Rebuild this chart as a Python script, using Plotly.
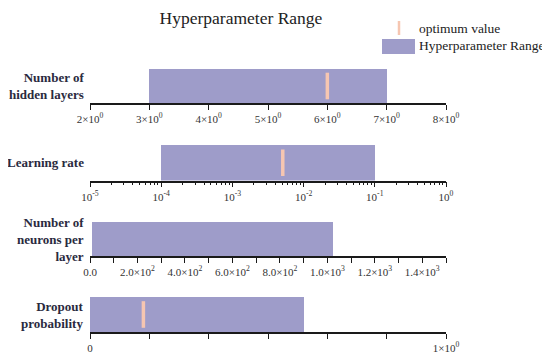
import plotly.graph_objects as go

# ---- data ----
param_labels = ["Number of<br>hidden layers", "Learning rate",
                "Number of<br>neurons per<br>layer", "Dropout<br>probability"]
range_low = [3, 1e-4, 8, 0]
range_high = [7, 1e-1, 1024, 0.6]
optimum = [6, 5.1e-3, None, 0.15]

axis_types = ["linear", "log", "linear", "linear"]
axis_ranges = [[2, 8], [-5, 0], [0, 1500], [0, 1]]

tick_vals_1 = [2, 3, 4, 5, 6, 7, 8]
tick_text_1 = ["2×10<sup>0</sup>", "3×10<sup>0</sup>", "4×10<sup>0</sup>", "5×10<sup>0</sup>",
               "6×10<sup>0</sup>", "7×10<sup>0</sup>", "8×10<sup>0</sup>"]
tick_vals_2 = [1e-5, 1e-4, 1e-3, 1e-2, 1e-1, 1]
tick_text_2 = ["10<sup>-5</sup>", "10<sup>-4</sup>", "10<sup>-3</sup>", "10<sup>-2</sup>",
               "10<sup>-1</sup>", "10<sup>0</sup>"]
tick_vals_3 = [0, 200, 400, 600, 800, 1000, 1200, 1400]
tick_text_3 = ["0.0", "2.0×10<sup>2</sup>", "4.0×10<sup>2</sup>", "6.0×10<sup>2</sup>",
               "8.0×10<sup>2</sup>", "1.0×10<sup>3</sup>", "1.2×10<sup>3</sup>", "1.4×10<sup>3</sup>"]
tick_vals_4 = [0, 1]
tick_text_4 = ["0", "1×10<sup>0</sup>"]

tick_vals = [tick_vals_1, tick_vals_2, tick_vals_3, tick_vals_4]
tick_texts = [tick_text_1, tick_text_2, tick_text_3, tick_text_4]
minor_steps = [None, "D1", 100, 1 / 6]

title_text = "Hyperparameter Range"
legend_opt = "optimum value"
legend_range = "Hyperparameter Range"

# ---- style ----
W, H = 550, 359
BAR_COLOR = "#9e9cc9"
OPT_COLOR = "#f6c6b1"
SERIF = "Liberation Serif"
LABEL_COLOR = "#2a2a3e"

x_dom = [82 / W, 438 / W]
y_px = [(61.0, 95.0), (137.0, 172.5), (214.0, 248.0), (289.0, 324.0)]

fig = go.Figure()

for i in range(4):
    n = "" if i == 0 else str(i + 1)
    xa, ya = "x" + n, "y" + n
    fig.add_trace(go.Bar(
        y=[0], x=[range_high[i] - range_low[i]], base=[range_low[i]],
        orientation="h", width=1.0, marker=dict(color=BAR_COLOR, line=dict(width=0)),
        xaxis=xa, yaxis=ya, showlegend=False, hoverinfo="skip"))
    if optimum[i] is not None:
        fig.add_trace(go.Scatter(
            x=[optimum[i]], y=[0], mode="markers",
            marker=dict(symbol="line-ns", size=19, line=dict(width=3.5, color=OPT_COLOR)),
            xaxis=xa, yaxis=ya, showlegend=False, hoverinfo="skip"))

    top, bot = y_px[i]
    xkw = dict(
        domain=x_dom, type=axis_types[i], range=axis_ranges[i], anchor=ya,
        showline=True, linecolor="#1a1a1a", linewidth=1.6,
        ticks="outside", ticklen=5, tickwidth=1.4, tickcolor="#1a1a1a",
        tickvals=tick_vals[i], ticktext=tick_texts[i],
        tickfont=dict(family=SERIF, size=11, color="#333333"),
        showgrid=False, zeroline=False, automargin=False, fixedrange=True,
    )
    if minor_steps[i] == "D1":
        xkw["minor"] = dict(ticks="outside", ticklen=3, tickwidth=1.2, tickcolor="#1a1a1a",
                            dtick="D1", showgrid=False)
    elif minor_steps[i] is not None:
        xkw["minor"] = dict(ticks="outside", ticklen=5, tickwidth=1.4, tickcolor="#1a1a1a",
                            tickmode="linear", tick0=0, dtick=minor_steps[i], showgrid=False)
    ykw = dict(
        domain=[1 - bot / H, 1 - top / H], range=[-0.5, 0.5], anchor=xa,
        showticklabels=False, ticks="",
        showline=False, showgrid=False, zeroline=False, automargin=False, fixedrange=True,
    )
    fig.update_layout(**{"xaxis" + n: xkw, "yaxis" + n: ykw})

    # category label at the left of each panel, placed on the panel's own y scale
    fig.add_annotation(x=78 / W, xref="paper", y=0, yref=ya,
                       text=param_labels[i], showarrow=False,
                       xanchor="right", yanchor="middle", align="right",
                       font=dict(family=SERIF, size=13, color=LABEL_COLOR, weight="bold"))

# custom legend
fig.add_shape(type="line", xref="paper", yref="paper",
              x0=391 / W, x1=391 / W, y0=1 - 13 / H, y1=1 - 27 / H,
              line=dict(color=OPT_COLOR, width=2.5))
fig.add_shape(type="rect", xref="paper", yref="paper",
              x0=374 / W, x1=407 / W, y0=1 - 31 / H, y1=1 - 46 / H,
              line=dict(width=0), fillcolor=BAR_COLOR)
fig.add_annotation(x=409 / W, y=1 - 20 / H, xref="paper", yref="paper",
                   text=legend_opt, showarrow=False, xanchor="left", yanchor="middle",
                   font=dict(family=SERIF, size=13.5, color="#222222"))
fig.add_annotation(x=409 / W, y=1 - 37.5 / H, xref="paper", yref="paper",
                   text=legend_range, showarrow=False, xanchor="left", yanchor="middle",
                   font=dict(family=SERIF, size=13.5, color="#222222"))

fig.update_layout(
    width=W, height=H,
    margin=dict(l=0, r=0, t=0, b=0),
    paper_bgcolor="white", plot_bgcolor="white",
    title=dict(text=title_text, x=233 / W, xanchor="center", y=1 - 9.5 / H, yanchor="middle",
               xref="paper", yref="container",
               font=dict(family=SERIF, size=17.5, color="#222222")),
    showlegend=False,
    bargap=0,
)

fig.write_html("out.html")
